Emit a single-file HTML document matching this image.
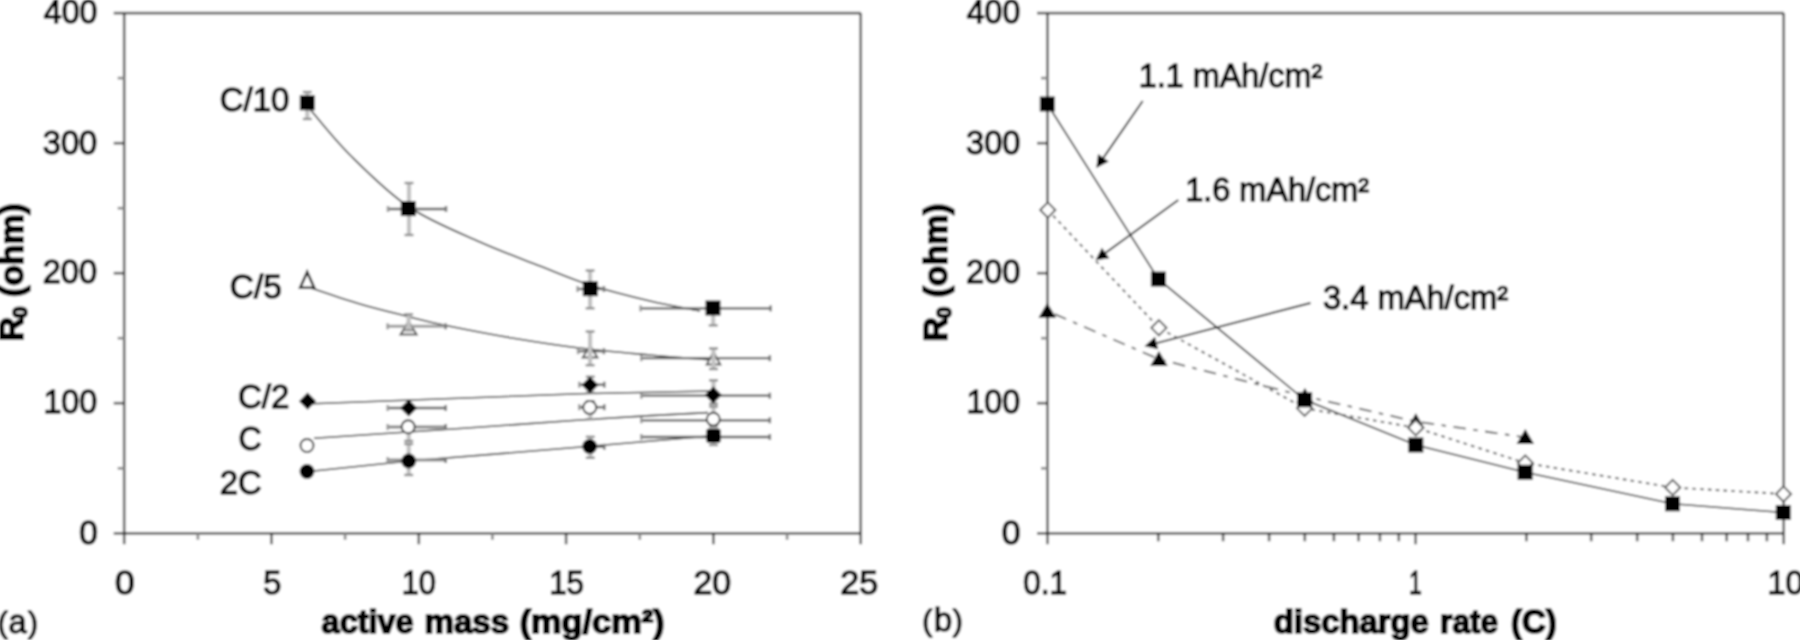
<!DOCTYPE html>
<html lang="en"><head><meta charset="utf-8"><title>R0 versus active mass and discharge rate</title>
<style>html,body{margin:0;padding:0;background:#fff;overflow:hidden}svg{display:block;font-family:"Liberation Sans",Arial,Helvetica,sans-serif}text{fill:#000;stroke:#000;stroke-width:1.4px;stroke-linejoin:round}text[font-weight=bold]{stroke-width:1.9px}</style></head><body>
<svg width="1800" height="640" viewBox="0 0 1800 640">
<defs><filter id="bl" x="-2%" y="-2%" width="104%" height="104%" filterUnits="objectBoundingBox"><feGaussianBlur stdDeviation="0.95"/></filter></defs>
<rect x="0" y="0" width="1800" height="640" fill="#fff"/>
<g filter="url(#bl)">
<rect x="-20" y="-20" width="1840" height="680" fill="#fff"/>
<g id="panel-a">
<line x1="124.2" y1="13.1" x2="124.2" y2="544.3" stroke="#000" stroke-opacity="0.6" stroke-width="2.7"/>
<line x1="113.7" y1="533.3" x2="860.7" y2="533.3" stroke="#000" stroke-opacity="0.6" stroke-width="2.7"/>
<line x1="113.7" y1="13.1" x2="860.7" y2="13.1" stroke="#000" stroke-opacity="0.6" stroke-width="2.7"/>
<line x1="860.7" y1="13.1" x2="860.7" y2="544.3" stroke="#000" stroke-opacity="0.6" stroke-width="2.7"/>
<line x1="117.7" y1="468.3" x2="124.2" y2="468.3" stroke="#8a8a8a" stroke-width="2.7"/>
<line x1="113.7" y1="403.2" x2="124.2" y2="403.2" stroke="#000" stroke-opacity="0.6" stroke-width="2.7"/>
<line x1="117.7" y1="338.2" x2="124.2" y2="338.2" stroke="#8a8a8a" stroke-width="2.7"/>
<line x1="113.7" y1="273.2" x2="124.2" y2="273.2" stroke="#000" stroke-opacity="0.6" stroke-width="2.7"/>
<line x1="117.7" y1="208.2" x2="124.2" y2="208.2" stroke="#8a8a8a" stroke-width="2.7"/>
<line x1="113.7" y1="143.2" x2="124.2" y2="143.2" stroke="#000" stroke-opacity="0.6" stroke-width="2.7"/>
<line x1="117.7" y1="78.1" x2="124.2" y2="78.1" stroke="#8a8a8a" stroke-width="2.7"/>
<line x1="197.9" y1="533.3" x2="197.9" y2="539.8" stroke="#8a8a8a" stroke-width="2.7"/>
<line x1="345.1" y1="533.3" x2="345.1" y2="539.8" stroke="#8a8a8a" stroke-width="2.7"/>
<line x1="492.4" y1="533.3" x2="492.4" y2="539.8" stroke="#8a8a8a" stroke-width="2.7"/>
<line x1="639.8" y1="533.3" x2="639.8" y2="539.8" stroke="#8a8a8a" stroke-width="2.7"/>
<line x1="787.1" y1="533.3" x2="787.1" y2="539.8" stroke="#8a8a8a" stroke-width="2.7"/>
<line x1="271.5" y1="533.3" x2="271.5" y2="544.3" stroke="#000" stroke-opacity="0.6" stroke-width="2.7"/>
<line x1="418.8" y1="533.3" x2="418.8" y2="544.3" stroke="#000" stroke-opacity="0.6" stroke-width="2.7"/>
<line x1="566.1" y1="533.3" x2="566.1" y2="544.3" stroke="#000" stroke-opacity="0.6" stroke-width="2.7"/>
<line x1="713.4" y1="533.3" x2="713.4" y2="544.3" stroke="#000" stroke-opacity="0.6" stroke-width="2.7"/>
<text id="t0" x="79.2" y="543.8" font-size="32.5" textLength="18.5" lengthAdjust="spacingAndGlyphs">0</text>
<text id="t1" x="43.4" y="413.4" font-size="32.5" textLength="53.7" lengthAdjust="spacingAndGlyphs">100</text>
<text id="t2" x="42.7" y="283.1" font-size="32.5" textLength="54.3" lengthAdjust="spacingAndGlyphs">200</text>
<text id="t3" x="42.8" y="153.9" font-size="32.5" textLength="54.4" lengthAdjust="spacingAndGlyphs">300</text>
<text id="t4" x="43.8" y="23.4" font-size="32.5" textLength="53.5" lengthAdjust="spacingAndGlyphs">400</text>
<text id="t5" x="115.1" y="593.5" font-size="32.5" textLength="19.6" lengthAdjust="spacingAndGlyphs">0</text>
<text id="t6" x="263.2" y="593.7" font-size="32.5" textLength="18.1" lengthAdjust="spacingAndGlyphs">5</text>
<text id="t7" x="401.8" y="593.8" font-size="32.5" textLength="34.1" lengthAdjust="spacingAndGlyphs">10</text>
<text id="t8" x="549.2" y="593.8" font-size="32.5" textLength="34.8" lengthAdjust="spacingAndGlyphs">15</text>
<text id="t9" x="693.4" y="593.8" font-size="32.5" textLength="37.5" lengthAdjust="spacingAndGlyphs">20</text>
<text id="t10" x="840.2" y="593.8" font-size="32.5" textLength="37.9" lengthAdjust="spacingAndGlyphs">25</text>
<path d="M309.0 108.0C315.8 115.8 333.3 138.5 350.0 155.0C366.7 171.5 387.3 192.5 409.0 207.0C430.7 221.5 458.2 232.2 480.0 242.0C501.8 251.8 521.7 258.8 540.0 266.0C558.3 273.2 571.7 279.2 590.0 285.0C608.3 290.8 631.7 296.7 650.0 301.0C668.3 305.3 691.7 309.3 700.0 311.0" fill="none" stroke="#2a2a2a" stroke-width="1.65" />
<path d="M311.0 288.0C319.2 290.7 344.2 299.3 360.0 304.0C375.8 308.7 391.7 312.4 406.0 316.0C420.3 319.6 427.8 321.8 446.0 325.5C464.2 329.2 492.8 334.8 515.0 338.5C537.2 342.2 556.5 345.2 579.0 348.0C601.5 350.8 627.8 353.0 650.0 355.0C672.2 357.0 701.7 359.2 712.0 360.0" fill="none" stroke="#2a2a2a" stroke-width="1.65" />
<path d="M312.0 403.8L445.0 398.7L580.0 393.8L712.0 391.0" fill="none" stroke="#2a2a2a" stroke-width="1.65" />
<path d="M314.0 438.3L460.0 428.5L580.0 420.0L650.0 415.6L708.0 412.6" fill="none" stroke="#2a2a2a" stroke-width="1.65" />
<path d="M309.0 471.5L409.0 461.0L590.0 446.3L713.0 435.7" fill="none" stroke="#2a2a2a" stroke-width="1.65" />
<path d="M408.6 321.5L416.6 334.5L400.6 334.5Z" fill="#fff" stroke="#555" stroke-width="2" stroke-linejoin="miter"/>
<path d="M590.1 345.5L597.5 357.5L582.7 357.5Z" fill="#fff" stroke="#555" stroke-width="1.9" stroke-linejoin="miter"/>
<path d="M713.5 352.0L720.3 364.5L706.7 364.5Z" fill="#fff" stroke="#555" stroke-width="1.9" stroke-linejoin="miter"/>
<line x1="307.3" y1="92.0" x2="307.3" y2="119.0" stroke="#c2c2c2" stroke-width="4.2"/>
<line x1="302.8" y1="92.0" x2="311.8" y2="92.0" stroke="#8e8e8e" stroke-width="2.4"/>
<line x1="302.8" y1="119.0" x2="311.8" y2="119.0" stroke="#8e8e8e" stroke-width="2.4"/>
<line x1="388.0" y1="209.0" x2="446.0" y2="209.0" stroke="#5c5c5c" stroke-width="2.3"/>
<line x1="388.0" y1="206.0" x2="388.0" y2="212.0" stroke="#9a9a9a" stroke-width="2.6"/>
<line x1="446.0" y1="206.0" x2="446.0" y2="212.0" stroke="#777" stroke-width="2.6"/>
<line x1="409.0" y1="183.0" x2="409.0" y2="235.0" stroke="#c2c2c2" stroke-width="4.2"/>
<line x1="404.5" y1="183.0" x2="413.5" y2="183.0" stroke="#8e8e8e" stroke-width="2.4"/>
<line x1="404.5" y1="235.0" x2="413.5" y2="235.0" stroke="#8e8e8e" stroke-width="2.4"/>
<line x1="577.6" y1="289.0" x2="603.9" y2="289.0" stroke="#5c5c5c" stroke-width="2.3"/>
<line x1="577.6" y1="286.0" x2="577.6" y2="292.0" stroke="#9a9a9a" stroke-width="2.6"/>
<line x1="603.9" y1="286.0" x2="603.9" y2="292.0" stroke="#777" stroke-width="2.6"/>
<line x1="590.1" y1="270.5" x2="590.1" y2="308.3" stroke="#c2c2c2" stroke-width="4.2"/>
<line x1="585.6" y1="270.5" x2="594.6" y2="270.5" stroke="#8e8e8e" stroke-width="2.4"/>
<line x1="585.6" y1="308.3" x2="594.6" y2="308.3" stroke="#8e8e8e" stroke-width="2.4"/>
<line x1="640.6" y1="308.4" x2="770.6" y2="308.4" stroke="#5c5c5c" stroke-width="2.3"/>
<line x1="640.6" y1="305.4" x2="640.6" y2="311.4" stroke="#9a9a9a" stroke-width="2.6"/>
<line x1="770.6" y1="305.4" x2="770.6" y2="311.4" stroke="#777" stroke-width="2.6"/>
<line x1="713.2" y1="308.4" x2="713.2" y2="325.4" stroke="#c2c2c2" stroke-width="4.2"/>
<line x1="708.7" y1="325.4" x2="717.7" y2="325.4" stroke="#8e8e8e" stroke-width="2.4"/>
<line x1="387.6" y1="326.3" x2="445.6" y2="326.3" stroke="#9c9c9c" stroke-width="3.0"/>
<line x1="387.6" y1="323.3" x2="387.6" y2="329.3" stroke="#9a9a9a" stroke-width="2.6"/>
<line x1="445.6" y1="323.3" x2="445.6" y2="329.3" stroke="#777" stroke-width="2.6"/>
<line x1="408.6" y1="314.3" x2="408.6" y2="330.3" stroke="#c2c2c2" stroke-width="4.2"/>
<line x1="404.1" y1="314.3" x2="413.1" y2="314.3" stroke="#8e8e8e" stroke-width="2.4"/>
<line x1="404.1" y1="330.3" x2="413.1" y2="330.3" stroke="#8e8e8e" stroke-width="2.4"/>
<line x1="578.1" y1="351.2" x2="603.9" y2="351.2" stroke="#5c5c5c" stroke-width="2.3"/>
<line x1="578.1" y1="348.2" x2="578.1" y2="354.2" stroke="#9a9a9a" stroke-width="2.6"/>
<line x1="603.9" y1="348.2" x2="603.9" y2="354.2" stroke="#777" stroke-width="2.6"/>
<line x1="590.1" y1="331.5" x2="590.1" y2="365.2" stroke="#c2c2c2" stroke-width="4.2"/>
<line x1="585.6" y1="331.5" x2="594.6" y2="331.5" stroke="#8e8e8e" stroke-width="2.4"/>
<line x1="585.6" y1="365.2" x2="594.6" y2="365.2" stroke="#8e8e8e" stroke-width="2.4"/>
<line x1="641.3" y1="358.2" x2="769.8" y2="358.2" stroke="#5c5c5c" stroke-width="2.3"/>
<line x1="641.3" y1="355.2" x2="641.3" y2="361.2" stroke="#9a9a9a" stroke-width="2.6"/>
<line x1="769.8" y1="355.2" x2="769.8" y2="361.2" stroke="#777" stroke-width="2.6"/>
<line x1="713.5" y1="348.4" x2="713.5" y2="369.0" stroke="#c2c2c2" stroke-width="4.2"/>
<line x1="709.0" y1="348.4" x2="718.0" y2="348.4" stroke="#8e8e8e" stroke-width="2.4"/>
<line x1="709.0" y1="369.0" x2="718.0" y2="369.0" stroke="#8e8e8e" stroke-width="2.4"/>
<line x1="387.7" y1="408.0" x2="445.7" y2="408.0" stroke="#5c5c5c" stroke-width="2.3"/>
<line x1="387.7" y1="405.0" x2="387.7" y2="411.0" stroke="#9a9a9a" stroke-width="2.6"/>
<line x1="445.7" y1="405.0" x2="445.7" y2="411.0" stroke="#777" stroke-width="2.6"/>
<line x1="579.3" y1="384.7" x2="604.3" y2="384.7" stroke="#5c5c5c" stroke-width="2.3"/>
<line x1="579.3" y1="381.7" x2="579.3" y2="387.7" stroke="#9a9a9a" stroke-width="2.6"/>
<line x1="604.3" y1="381.7" x2="604.3" y2="387.7" stroke="#777" stroke-width="2.6"/>
<line x1="590.3" y1="376.7" x2="590.3" y2="392.7" stroke="#c2c2c2" stroke-width="4.2"/>
<line x1="585.8" y1="376.7" x2="594.8" y2="376.7" stroke="#8e8e8e" stroke-width="2.4"/>
<line x1="585.8" y1="392.7" x2="594.8" y2="392.7" stroke="#8e8e8e" stroke-width="2.4"/>
<line x1="641.3" y1="395.7" x2="769.8" y2="395.7" stroke="#5c5c5c" stroke-width="2.3"/>
<line x1="641.3" y1="392.7" x2="641.3" y2="398.7" stroke="#9a9a9a" stroke-width="2.6"/>
<line x1="769.8" y1="392.7" x2="769.8" y2="398.7" stroke="#777" stroke-width="2.6"/>
<line x1="713.5" y1="380.3" x2="713.5" y2="403.7" stroke="#c2c2c2" stroke-width="4.2"/>
<line x1="709.0" y1="380.3" x2="718.0" y2="380.3" stroke="#8e8e8e" stroke-width="2.4"/>
<line x1="709.0" y1="403.7" x2="718.0" y2="403.7" stroke="#8e8e8e" stroke-width="2.4"/>
<line x1="387.7" y1="427.0" x2="445.7" y2="427.0" stroke="#858585" stroke-width="3.0"/>
<line x1="387.7" y1="424.0" x2="387.7" y2="430.0" stroke="#9a9a9a" stroke-width="2.6"/>
<line x1="445.7" y1="424.0" x2="445.7" y2="430.0" stroke="#777" stroke-width="2.6"/>
<line x1="408.7" y1="423.0" x2="408.7" y2="441.0" stroke="#c2c2c2" stroke-width="4.2"/>
<line x1="404.2" y1="423.0" x2="413.2" y2="423.0" stroke="#8e8e8e" stroke-width="2.4"/>
<line x1="404.2" y1="441.0" x2="413.2" y2="441.0" stroke="#8e8e8e" stroke-width="2.4"/>
<line x1="579.3" y1="407.2" x2="604.3" y2="407.2" stroke="#5c5c5c" stroke-width="2.3"/>
<line x1="579.3" y1="404.2" x2="579.3" y2="410.2" stroke="#9a9a9a" stroke-width="2.6"/>
<line x1="604.3" y1="404.2" x2="604.3" y2="410.2" stroke="#777" stroke-width="2.6"/>
<line x1="590.3" y1="401.2" x2="590.3" y2="419.2" stroke="#c2c2c2" stroke-width="4.2"/>
<line x1="585.8" y1="401.2" x2="594.8" y2="401.2" stroke="#8e8e8e" stroke-width="2.4"/>
<line x1="585.8" y1="419.2" x2="594.8" y2="419.2" stroke="#8e8e8e" stroke-width="2.4"/>
<line x1="641.3" y1="420.3" x2="769.8" y2="420.3" stroke="#5c5c5c" stroke-width="2.3"/>
<line x1="641.3" y1="417.3" x2="641.3" y2="423.3" stroke="#9a9a9a" stroke-width="2.6"/>
<line x1="769.8" y1="417.3" x2="769.8" y2="423.3" stroke="#777" stroke-width="2.6"/>
<line x1="713.5" y1="406.6" x2="713.5" y2="426.3" stroke="#c2c2c2" stroke-width="4.2"/>
<line x1="709.0" y1="406.6" x2="718.0" y2="406.6" stroke="#8e8e8e" stroke-width="2.4"/>
<line x1="709.0" y1="426.3" x2="718.0" y2="426.3" stroke="#8e8e8e" stroke-width="2.4"/>
<line x1="387.7" y1="460.0" x2="445.7" y2="460.0" stroke="#8c8c8c" stroke-width="3.0"/>
<line x1="387.7" y1="457.0" x2="387.7" y2="463.0" stroke="#9a9a9a" stroke-width="2.6"/>
<line x1="445.7" y1="457.0" x2="445.7" y2="463.0" stroke="#777" stroke-width="2.6"/>
<line x1="408.7" y1="444.0" x2="408.7" y2="475.0" stroke="#c2c2c2" stroke-width="4.2"/>
<line x1="404.2" y1="444.0" x2="413.2" y2="444.0" stroke="#8e8e8e" stroke-width="2.4"/>
<line x1="404.2" y1="475.0" x2="413.2" y2="475.0" stroke="#8e8e8e" stroke-width="2.4"/>
<line x1="586.3" y1="446.8" x2="604.3" y2="446.8" stroke="#5c5c5c" stroke-width="2.3"/>
<line x1="586.3" y1="443.8" x2="586.3" y2="449.8" stroke="#9a9a9a" stroke-width="2.6"/>
<line x1="604.3" y1="443.8" x2="604.3" y2="449.8" stroke="#777" stroke-width="2.6"/>
<line x1="590.3" y1="436.8" x2="590.3" y2="457.8" stroke="#c2c2c2" stroke-width="4.2"/>
<line x1="585.8" y1="436.8" x2="594.8" y2="436.8" stroke="#8e8e8e" stroke-width="2.4"/>
<line x1="585.8" y1="457.8" x2="594.8" y2="457.8" stroke="#8e8e8e" stroke-width="2.4"/>
<line x1="641.3" y1="437.0" x2="769.8" y2="437.0" stroke="#5c5c5c" stroke-width="2.3"/>
<line x1="641.3" y1="434.0" x2="641.3" y2="440.0" stroke="#9a9a9a" stroke-width="2.6"/>
<line x1="769.8" y1="434.0" x2="769.8" y2="440.0" stroke="#777" stroke-width="2.6"/>
<line x1="713.5" y1="433.0" x2="713.5" y2="445.0" stroke="#c2c2c2" stroke-width="4.2"/>
<line x1="709.0" y1="433.0" x2="718.0" y2="433.0" stroke="#8e8e8e" stroke-width="2.4"/>
<line x1="709.0" y1="445.0" x2="718.0" y2="445.0" stroke="#8e8e8e" stroke-width="2.4"/>
<rect x="299.8" y="95.3" width="15.0" height="15.0" fill="#000"/>
<rect x="400.8" y="201.1" width="15.0" height="15.0" fill="#000"/>
<rect x="582.8" y="281.2" width="15.0" height="15.0" fill="#000"/>
<rect x="705.5" y="300.5" width="15.0" height="15.0" fill="#000"/>
<path d="M307.2 272.0L314.2 287.8L300.2 287.8Z" fill="#fff" stroke="#222" stroke-width="2.6" stroke-linejoin="miter"/>
<path d="M307.6 392.6L316.2 401.2L307.6 409.8L299.0 401.2Z" fill="#000" stroke="none" stroke-width="0"/>
<path d="M408.7 399.4L417.3 408.0L408.7 416.6L400.1 408.0Z" fill="#000" stroke="none" stroke-width="0"/>
<path d="M590.0 376.4L598.6 385.0L590.0 393.6L581.4 385.0Z" fill="#000" stroke="none" stroke-width="0"/>
<path d="M713.3 386.4L721.9 395.0L713.3 403.6L704.7 395.0Z" fill="#000" stroke="none" stroke-width="0"/>
<circle cx="307.0" cy="445.5" r="6.5" fill="#fff" stroke="#333" stroke-width="1.9"/>
<circle cx="408.2" cy="426.8" r="6.5" fill="#fff" stroke="#333" stroke-width="1.9"/>
<circle cx="589.7" cy="407.4" r="6.5" fill="#fff" stroke="#333" stroke-width="1.9"/>
<circle cx="713.3" cy="419.2" r="6.5" fill="#fff" stroke="#333" stroke-width="1.9"/>
<circle cx="307.0" cy="471.5" r="7.4" fill="#000" stroke="none" stroke-width="0"/>
<circle cx="408.7" cy="461.0" r="7.4" fill="#000" stroke="none" stroke-width="0"/>
<circle cx="589.7" cy="446.4" r="7.4" fill="#000" stroke="none" stroke-width="0"/>
<rect x="706.2" y="428.4" width="14.6" height="14.6" rx="3" fill="#000"/>
<text id="t11" x="219.8" y="111.0" font-size="32.5" textLength="69.5" lengthAdjust="spacingAndGlyphs">C/10</text>
<text id="t12" x="229.8" y="297.8" font-size="32.5" textLength="52.0" lengthAdjust="spacingAndGlyphs">C/5</text>
<text id="t13" x="237.9" y="407.6" font-size="32.5" textLength="51.4" lengthAdjust="spacingAndGlyphs">C/2</text>
<text id="t14" x="238.6" y="449.6" font-size="32.5" textLength="23.2" lengthAdjust="spacingAndGlyphs">C</text>
<text id="t15" x="219.8" y="493.6" font-size="32.5" textLength="42.0" lengthAdjust="spacingAndGlyphs">2C</text>
<text font-size="32.5" font-weight="bold"><tspan id="t16" x="321.6" y="632.5" textLength="92.0" lengthAdjust="spacingAndGlyphs">active</tspan> <tspan id="t17" x="424.5" y="632.5" textLength="84.6" lengthAdjust="spacingAndGlyphs">mass</tspan> <tspan id="t18" x="519.7" y="632.5" textLength="144.8" lengthAdjust="spacingAndGlyphs">(mg/cm²)</tspan></text>
<text transform="translate(22.9 341.2) rotate(-90)" font-size="33.5" font-weight="bold" textLength="138" lengthAdjust="spacingAndGlyphs">R<tspan font-size="21" dx="-1.5" dy="4.5">0</tspan><tspan dy="-4.5"> (ohm)</tspan></text>
<text x="-2.2 8.6 27.9" y="632.9" font-size="32.5"><tspan font-size="30">(</tspan>a<tspan font-size="30">)</tspan></text>
</g>
<g id="panel-b">
<line x1="1047.5" y1="13.1" x2="1047.5" y2="544.3" stroke="#000" stroke-opacity="0.6" stroke-width="2.7"/>
<line x1="1037.0" y1="533.3" x2="1783.7" y2="533.3" stroke="#000" stroke-opacity="0.6" stroke-width="2.7"/>
<line x1="1037.0" y1="13.1" x2="1783.7" y2="13.1" stroke="#000" stroke-opacity="0.6" stroke-width="2.7"/>
<line x1="1783.7" y1="13.1" x2="1783.7" y2="544.3" stroke="#000" stroke-opacity="0.6" stroke-width="2.7"/>
<line x1="1041.0" y1="468.3" x2="1047.5" y2="468.3" stroke="#8a8a8a" stroke-width="2.7"/>
<line x1="1037.0" y1="403.2" x2="1047.5" y2="403.2" stroke="#000" stroke-opacity="0.6" stroke-width="2.7"/>
<line x1="1041.0" y1="338.2" x2="1047.5" y2="338.2" stroke="#8a8a8a" stroke-width="2.7"/>
<line x1="1037.0" y1="273.2" x2="1047.5" y2="273.2" stroke="#000" stroke-opacity="0.6" stroke-width="2.7"/>
<line x1="1041.0" y1="208.2" x2="1047.5" y2="208.2" stroke="#8a8a8a" stroke-width="2.7"/>
<line x1="1037.0" y1="143.2" x2="1047.5" y2="143.2" stroke="#000" stroke-opacity="0.6" stroke-width="2.7"/>
<line x1="1041.0" y1="78.1" x2="1047.5" y2="78.1" stroke="#8a8a8a" stroke-width="2.7"/>
<line x1="1158.3" y1="533.3" x2="1158.3" y2="541.3" stroke="#000" stroke-opacity="0.6" stroke-width="2.7"/>
<line x1="1223.1" y1="533.3" x2="1223.1" y2="541.3" stroke="#000" stroke-opacity="0.6" stroke-width="2.7"/>
<line x1="1269.1" y1="533.3" x2="1269.1" y2="541.3" stroke="#000" stroke-opacity="0.6" stroke-width="2.7"/>
<line x1="1304.8" y1="533.3" x2="1304.8" y2="541.3" stroke="#000" stroke-opacity="0.6" stroke-width="2.7"/>
<line x1="1333.9" y1="533.3" x2="1333.9" y2="541.3" stroke="#000" stroke-opacity="0.6" stroke-width="2.7"/>
<line x1="1358.6" y1="533.3" x2="1358.6" y2="541.3" stroke="#000" stroke-opacity="0.6" stroke-width="2.7"/>
<line x1="1379.9" y1="533.3" x2="1379.9" y2="541.3" stroke="#000" stroke-opacity="0.6" stroke-width="2.7"/>
<line x1="1398.8" y1="533.3" x2="1398.8" y2="541.3" stroke="#000" stroke-opacity="0.6" stroke-width="2.7"/>
<line x1="1526.4" y1="533.3" x2="1526.4" y2="541.3" stroke="#000" stroke-opacity="0.6" stroke-width="2.7"/>
<line x1="1591.2" y1="533.3" x2="1591.2" y2="541.3" stroke="#000" stroke-opacity="0.6" stroke-width="2.7"/>
<line x1="1637.2" y1="533.3" x2="1637.2" y2="541.3" stroke="#000" stroke-opacity="0.6" stroke-width="2.7"/>
<line x1="1672.9" y1="533.3" x2="1672.9" y2="541.3" stroke="#000" stroke-opacity="0.6" stroke-width="2.7"/>
<line x1="1702.0" y1="533.3" x2="1702.0" y2="541.3" stroke="#000" stroke-opacity="0.6" stroke-width="2.7"/>
<line x1="1726.7" y1="533.3" x2="1726.7" y2="541.3" stroke="#000" stroke-opacity="0.6" stroke-width="2.7"/>
<line x1="1748.0" y1="533.3" x2="1748.0" y2="541.3" stroke="#000" stroke-opacity="0.6" stroke-width="2.7"/>
<line x1="1766.9" y1="533.3" x2="1766.9" y2="541.3" stroke="#000" stroke-opacity="0.6" stroke-width="2.7"/>
<line x1="1415.6" y1="533.3" x2="1415.6" y2="544.3" stroke="#000" stroke-opacity="0.6" stroke-width="2.7"/>
<text id="t19" x="1001.8" y="543.8" font-size="32.5" textLength="18.7" lengthAdjust="spacingAndGlyphs">0</text>
<text id="t20" x="966.4" y="413.4" font-size="32.5" textLength="53.7" lengthAdjust="spacingAndGlyphs">100</text>
<text id="t21" x="965.9" y="283.1" font-size="32.5" textLength="54.4" lengthAdjust="spacingAndGlyphs">200</text>
<text id="t22" x="966.0" y="153.9" font-size="32.5" textLength="54.4" lengthAdjust="spacingAndGlyphs">300</text>
<text id="t23" x="966.8" y="23.3" font-size="32.5" textLength="53.4" lengthAdjust="spacingAndGlyphs">400</text>
<text id="t24" x="1023.2" y="593.5" font-size="32.5" textLength="43.7" lengthAdjust="spacingAndGlyphs">0.1</text>
<text id="t25" x="1408.9" y="593.8" font-size="32.5" textLength="12.8" lengthAdjust="spacingAndGlyphs">1</text>
<text id="t26" x="1767.6" y="593.8" font-size="32.5" textLength="35.8" lengthAdjust="spacingAndGlyphs">10</text>
<path d="M1047.3 104.0L1158.4 279.1L1304.6 399.8L1415.8 445.0L1525.1 472.3L1672.5 503.8L1783.3 512.5" fill="none" stroke="#2a2a2a" stroke-width="1.65" />
<path d="M1047.8 210.0L1158.9 327.8L1304.6 408.3L1415.8 427.7L1525.3 463.0L1672.7 487.5L1783.5 494.0" fill="none" stroke="#555" stroke-width="1.9" stroke-dasharray="3.6 4.2"/>
<path d="M1047.3 310.9L1158.9 359.2L1304.9 396.3L1415.8 421.5L1525.3 437.3" fill="none" stroke="#555" stroke-width="1.8" stroke-dasharray="12.5 7.5 4.5 7.5" stroke-dashoffset="-8"/>
<path d="M1047.3 302.7L1056.1 317.7L1038.5 317.7Z" fill="#000" stroke="none" stroke-width="0" stroke-linejoin="miter"/>
<path d="M1158.9 351.0L1167.7 366.0L1150.1 366.0Z" fill="#000" stroke="none" stroke-width="0" stroke-linejoin="miter"/>
<path d="M1304.9 388.1L1313.7 403.1L1296.1 403.1Z" fill="#000" stroke="none" stroke-width="0" stroke-linejoin="miter"/>
<path d="M1415.8 413.3L1424.6 428.3L1407.0 428.3Z" fill="#000" stroke="none" stroke-width="0" stroke-linejoin="miter"/>
<path d="M1525.3 429.1L1534.1 444.1L1516.5 444.1Z" fill="#000" stroke="none" stroke-width="0" stroke-linejoin="miter"/>
<path d="M1047.8 202.4L1055.4 210.0L1047.8 217.6L1040.2 210.0Z" fill="#fff" stroke="#555" stroke-width="1.9"/>
<path d="M1158.9 320.2L1166.5 327.8L1158.9 335.4L1151.3 327.8Z" fill="#fff" stroke="#555" stroke-width="1.9"/>
<path d="M1304.6 400.7L1312.2 408.3L1304.6 415.9L1297.0 408.3Z" fill="#fff" stroke="#555" stroke-width="1.9"/>
<path d="M1415.8 420.1L1423.4 427.7L1415.8 435.3L1408.2 427.7Z" fill="#fff" stroke="#555" stroke-width="1.9"/>
<path d="M1525.3 455.4L1532.9 463.0L1525.3 470.6L1517.7 463.0Z" fill="#fff" stroke="#555" stroke-width="1.9"/>
<path d="M1672.7 479.9L1680.3 487.5L1672.7 495.1L1665.1 487.5Z" fill="#fff" stroke="#555" stroke-width="1.9"/>
<path d="M1783.5 486.4L1791.1 494.0L1783.5 501.6L1775.9 494.0Z" fill="#fff" stroke="#555" stroke-width="1.9"/>
<rect x="1039.8" y="96.5" width="15.0" height="15.0" fill="#000"/>
<rect x="1150.9" y="271.6" width="15.0" height="15.0" fill="#000"/>
<rect x="1297.1" y="392.3" width="15.0" height="15.0" fill="#000"/>
<rect x="1408.3" y="437.5" width="15.0" height="15.0" fill="#000"/>
<rect x="1517.6" y="464.8" width="15.0" height="15.0" fill="#000"/>
<rect x="1665.0" y="496.3" width="15.0" height="15.0" fill="#000"/>
<rect x="1775.8" y="505.0" width="15.0" height="15.0" fill="#000"/>
<line x1="1142.7" y1="101.0" x2="1102.3" y2="159.4" stroke="#2a2a2a" stroke-width="1.9"/>
<path d="M1096.3 168.0L1098.1 154.0L1108.8 161.4Z" fill="#000"/>
<line x1="1178.3" y1="200.0" x2="1104.0" y2="254.1" stroke="#2a2a2a" stroke-width="1.9"/>
<path d="M1095.5 260.3L1101.8 247.7L1109.4 258.2Z" fill="#000"/>
<line x1="1310.5" y1="303.0" x2="1154.7" y2="343.6" stroke="#2a2a2a" stroke-width="1.9"/>
<path d="M1144.5 346.2L1155.0 336.8L1158.2 349.3Z" fill="#000"/>
<text id="t27" x="1138.7" y="86.5" font-size="32.5" textLength="183.5" lengthAdjust="spacingAndGlyphs">1.1 mAh/cm²</text>
<text id="t28" x="1185.2" y="200.7" font-size="32.5" textLength="183.8" lengthAdjust="spacingAndGlyphs">1.6 mAh/cm²</text>
<text id="t29" x="1322.9" y="309.1" font-size="32.5" textLength="185.2" lengthAdjust="spacingAndGlyphs">3.4 mAh/cm²</text>
<text font-size="32.5" font-weight="bold"><tspan id="t30" x="1273.8" y="633.1" textLength="154.9" lengthAdjust="spacingAndGlyphs">discharge</tspan> <tspan id="t31" x="1440.1" y="633.1" textLength="58.1" lengthAdjust="spacingAndGlyphs">rate</tspan> <tspan id="t32" x="1511.0" y="633.1" textLength="45.7" lengthAdjust="spacingAndGlyphs">(C)</tspan></text>
<text transform="translate(946.9 341.5) rotate(-90)" font-size="33.5" font-weight="bold" textLength="138" lengthAdjust="spacingAndGlyphs">R<tspan font-size="21" dx="-1.5" dy="4.5">0</tspan><tspan dy="-4.5"> (ohm)</tspan></text>
<text x="922.3 933.9 952.8" y="630.6" font-size="32.5"><tspan font-size="30">(</tspan>b<tspan font-size="30">)</tspan></text>
</g>
</g></svg>
</body></html>
